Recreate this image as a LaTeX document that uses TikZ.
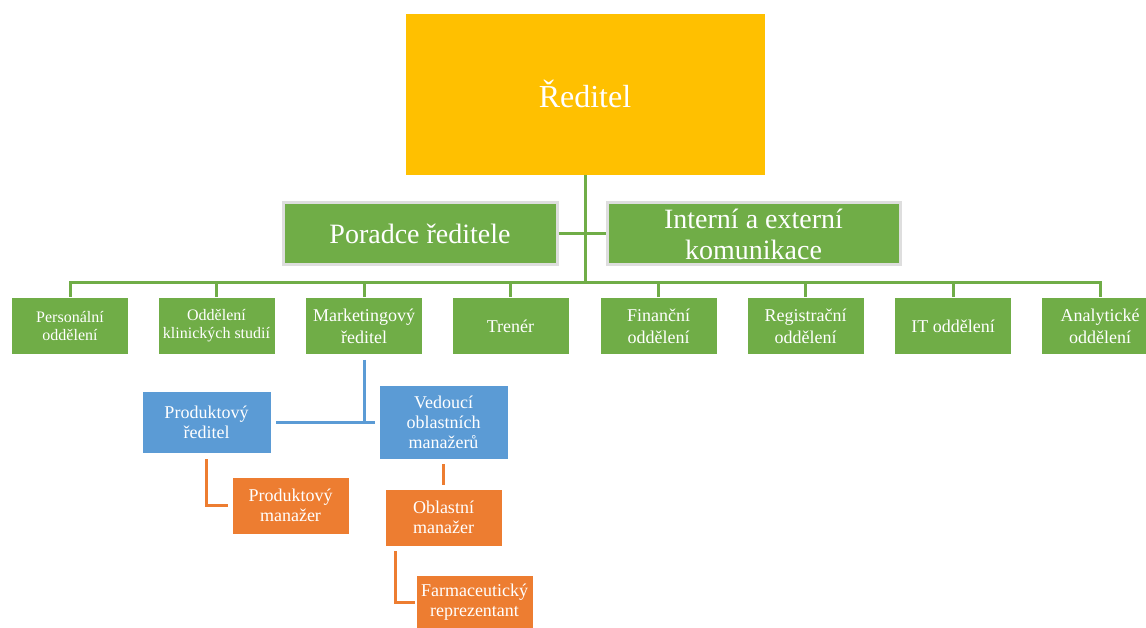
\documentclass[tikz,border=0pt]{standalone}
\usepackage{fontspec}
\setmainfont{Liberation Serif}
\usetikzlibrary{calc}
\definecolor{bossgold}{HTML}{FFC000}
\definecolor{deptgreen}{HTML}{70AD47}
\definecolor{mktblue}{HTML}{5B9BD5}
\definecolor{salesorange}{HTML}{ED7D31}

\begin{document}
\begin{tikzpicture}[x=1pt,y=-1pt,
    orgbox/.style={rectangle,draw=white,line width=0.6pt,text=white,align=center,inner sep=0pt},
    deptbox/.style={orgbox,fill=deptgreen,minimum width=117pt,minimum height=57pt,font=\fontsize{18}{22}\selectfont},
    staffbox/.style={orgbox,fill=deptgreen,draw=black!13,line width=3pt,minimum height=62pt,font=\fontsize{28}{31}\selectfont},
    bluebox/.style={orgbox,fill=mktblue,minimum width=129pt,font=\fontsize{18}{20}\selectfont},
    orangebox/.style={orgbox,fill=salesorange,minimum width=117pt,minimum height=57pt,font=\fontsize{18}{20}\selectfont},
    gline/.style={draw=deptgreen,line width=3pt},
    bline/.style={draw=mktblue,line width=3pt},
    oline/.style={draw=salesorange,line width=3pt}]
  \useasboundingbox (0,0) rectangle (1146,628);

  % top
  \node[orgbox,fill=bossgold,minimum width=360pt,minimum height=162pt,
    font=\fontsize{32}{38}\selectfont] (boss) at (585,94) {Ředitel};
  \node[staffbox,minimum width=274pt] (advisor) at (420,234) {Poradce ředitele};
  \node[staffbox,minimum width=293pt] (comms) at (753.5,234) {Interní a externí\\komunikace};
  \coordinate (hub) at (585,283);

  % departments
  \node[deptbox,font=\fontsize{16}{18}\selectfont] (dept1) at (70,326) {Personální\\oddělení};
  \node[deptbox,font=\fontsize{16}{18}\selectfont] (dept2) at (216.5,326) {Oddělení\\klinických studií};
  \node[deptbox] (dept3) at (364,326) {Marketingový\\ředitel};
  \node[deptbox] (dept4) at (510.5,326) {Trenér};
  \node[deptbox] (dept5) at (658.5,326) {Finanční\\oddělení};
  \node[deptbox] (dept6) at (805.5,326) {Registrační\\oddělení};
  \node[deptbox] (dept7) at (953,326) {IT oddělení};
  \node[deptbox] (dept8) at (1100,326) {Analytické\\oddělení};

  \draw[gline] (boss.south) -- (hub);
  \draw[gline] (advisor.east) -- (comms.west);
  \draw[gline] (dept1.north) |- (hub) -| (dept8.north);
  \foreach \i in {2,...,7}
    \draw[gline] (dept\i.north) -- (dept\i.north |- hub);

  % marketing
  \node[bluebox,minimum height=62pt] (proddir) at (206.5,422) {Produktový\\ředitel};
  \node[bluebox,minimum height=74pt] (areahead) at (443.5,422) {Vedoucí\\oblastních\\manažerů};
  \node[orangebox] (prodmgr) at (290.5,505.5) {Produktový\\manažer};
  \node[orangebox] (areamgr) at (443.5,517.5) {Oblastní\\manažer};
  \node[orangebox,minimum height=54pt] (rep) at (474.5,602) {Farmaceutický\\reprezentant};

  \draw[bline,shorten <=5pt] (dept3.south) -- (dept3.south |- proddir.east);
  \draw[bline,shorten <=5pt,shorten >=4pt] (proddir.east) -- (areahead.west);
  \draw[oline,shorten <=6pt,shorten >=4pt] (proddir.south) |- (prodmgr.west);
  \draw[oline,shorten <=5pt,shorten >=4pt] (areahead.south) -- (areamgr.north);
  \draw[oline,shorten <=5pt,shorten >=1pt] ($(areamgr.south west)+(11,0)$) |- (rep.west);
\end{tikzpicture}
\end{document}
